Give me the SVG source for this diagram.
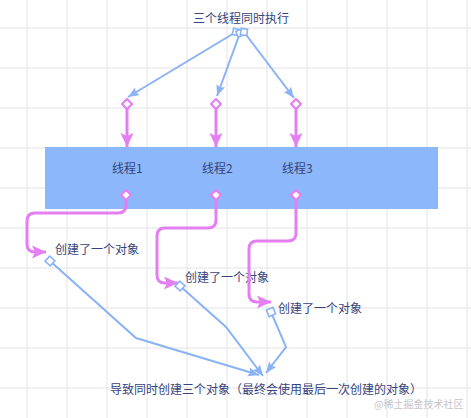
<svg xmlns="http://www.w3.org/2000/svg" width="471" height="418" viewBox="0 0 471 418">
<style>
.grid line{stroke:#e3e3e6;stroke-width:1}
.t{font-family:"Noto Sans CJK SC","Noto Sans",sans-serif;font-size:12px;fill:#36447a}
.wm{font-family:"Noto Sans CJK SC","Noto Sans",sans-serif;font-size:10px;fill:#c4c4c8}
.pk{fill:none;stroke:#e47ff2;stroke-width:3}
.bl{fill:none;stroke:#8ab2f6;stroke-width:2}
</style>
<defs>
<marker id="pa" markerUnits="userSpaceOnUse" markerWidth="16" markerHeight="14" refX="14" refY="6.5" orient="auto"><path d="M0,0 L14,6.5 L0,13 L3,6.5 z" fill="#e47ff2"/></marker>
<marker id="pd" markerUnits="userSpaceOnUse" markerWidth="12" markerHeight="12" refX="6" refY="6" orient="auto"><path d="M1,6 L6,1 L11,6 L6,11 z" fill="#fff" stroke="#e47ff2" stroke-width="2.2"/></marker>
<marker id="ba" markerUnits="userSpaceOnUse" markerWidth="12" markerHeight="10" refX="11" refY="4.5" orient="auto"><path d="M0,0 L11,4.5 L0,9 L2,4.5 z" fill="#8ab2f6"/></marker>
<marker id="bs" markerUnits="userSpaceOnUse" markerWidth="10" markerHeight="10" refX="5" refY="5" orient="auto"><rect x="1.5" y="1.5" width="7" height="7" fill="#fff" stroke="#8ab2f6" stroke-width="1.6"/></marker>
<marker id="bd" markerUnits="userSpaceOnUse" markerWidth="12" markerHeight="12" refX="6" refY="6" orient="auto"><path d="M1.5,6 L6,1.5 L10.5,6 L6,10.5 z" fill="#fff" stroke="#8ab2f6" stroke-width="1.6"/></marker>
</defs>
<rect width="471" height="418" fill="#fff"/>
<g class="grid">
<line x1="27" y1="0" x2="27" y2="418"/><line x1="67" y1="0" x2="67" y2="418"/><line x1="107" y1="0" x2="107" y2="418"/><line x1="147" y1="0" x2="147" y2="418"/><line x1="187" y1="0" x2="187" y2="418"/><line x1="227" y1="0" x2="227" y2="418"/><line x1="267" y1="0" x2="267" y2="418"/><line x1="307" y1="0" x2="307" y2="418"/><line x1="347" y1="0" x2="347" y2="418"/><line x1="387" y1="0" x2="387" y2="418"/><line x1="427" y1="0" x2="427" y2="418"/><line x1="467" y1="0" x2="467" y2="418"/>
<line x1="0" y1="28" x2="471" y2="28"/><line x1="0" y1="68" x2="471" y2="68"/><line x1="0" y1="108" x2="471" y2="108"/><line x1="0" y1="148" x2="471" y2="148"/><line x1="0" y1="188" x2="471" y2="188"/><line x1="0" y1="228" x2="471" y2="228"/><line x1="0" y1="268" x2="471" y2="268"/><line x1="0" y1="308" x2="471" y2="308"/><line x1="0" y1="348" x2="471" y2="348"/><line x1="0" y1="388" x2="471" y2="388"/>
</g>
<g id="threads-box">
<rect x="45" y="147" width="393" height="62" fill="#8cb7fa"/>
</g>
<g id="thread1"><text class="t" x="112" y="173">线程1</text></g>
<g id="thread2"><text class="t" x="202" y="173">线程2</text></g>
<g id="thread3"><text class="t" x="282" y="173">线程3</text></g>
<g id="start"><text class="t" x="193" y="23">三个线程同时执行</text></g>
<g id="obj1"><text class="t" x="55" y="254">创建了一个对象</text></g>
<g id="obj2"><text class="t" x="185" y="282">创建了一个对象</text></g>
<g id="obj3"><text class="t" x="278" y="313">创建了一个对象</text></g>
<g id="result"><text class="t" x="110" y="394">导致同时创建三个对象（最终会使用最后一次创建的对象）</text></g>
<g id="connectors">
<path class="bl" d="M236,32 L128,97" marker-start="url(#bd)" marker-end="url(#ba)"/>
<path class="bl" d="M240,33 L217,96" marker-start="url(#bd)" marker-end="url(#ba)"/>
<path class="bl" d="M244,32 L294,98" marker-start="url(#bd)" marker-end="url(#ba)"/>
<path class="pk" d="M127,104 V147" marker-start="url(#pd)" marker-end="url(#pa)"/>
<path class="pk" d="M216,104 V147" marker-start="url(#pd)" marker-end="url(#pa)"/>
<path class="pk" d="M296,104 V147" marker-start="url(#pd)" marker-end="url(#pa)"/>
<path class="pk" d="M126,195 V205 Q126,213 118,213 H35 Q27,213 27,221 V244 Q27,252 35,252 H46" marker-start="url(#pd)" marker-end="url(#pa)"/>
<path class="pk" d="M216,195 V220 Q216,228 208,228 H165 Q157,228 157,236 V275 Q157,283 165,283 H178" marker-start="url(#pd)" marker-end="url(#pa)"/>
<path class="pk" d="M296,195 V233 Q296,241 288,241 H257 Q249,241 249,249 V294 Q249,302 257,302 H271" marker-start="url(#pd)" marker-end="url(#pa)"/>
<path class="bl" d="M50,261 L136,338 L259,375" marker-start="url(#bs)" marker-end="url(#ba)"/>
<path class="bl" d="M180,286 L226,327 L263,376" marker-start="url(#bs)" marker-end="url(#ba)"/>
<path class="bl" d="M271,312 L286,347 L266,373" marker-start="url(#bs)" marker-end="url(#ba)"/>
</g>
<text class="wm" x="374" y="408">@稀土掘金技术社区</text>
</svg>
